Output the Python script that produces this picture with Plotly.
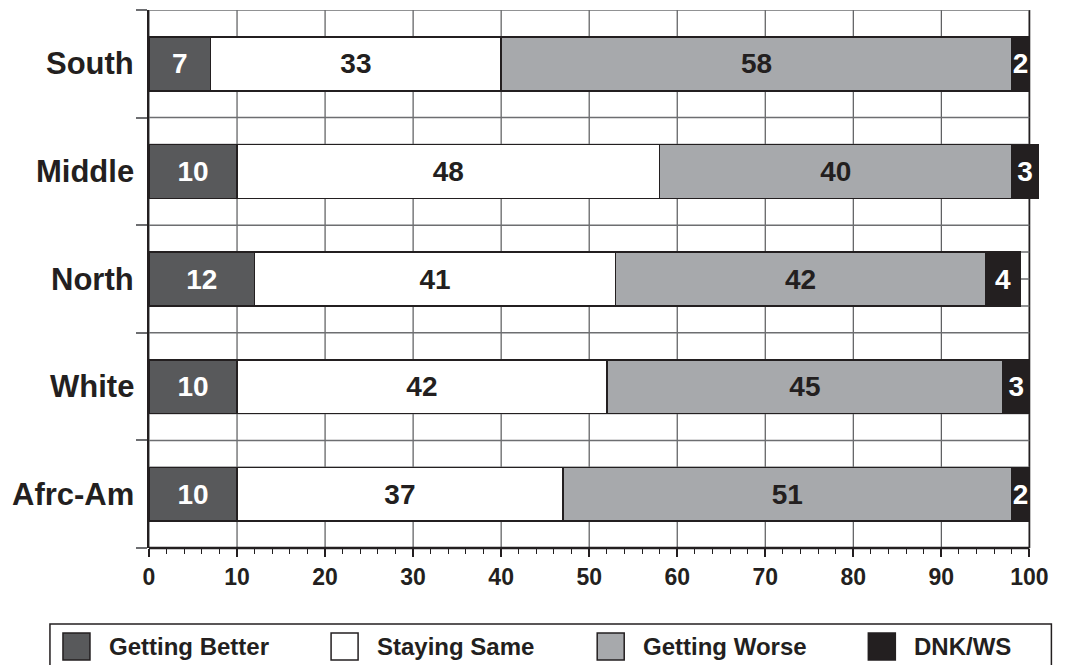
import plotly.graph_objects as go

categories = ["South", "Middle", "North", "White", "Afrc-Am"]
series_names = ["Getting Better", "Staying Same", "Getting Worse", "DNK/WS"]
getting_better = [7, 10, 12, 10, 10]
staying_same = [33, 48, 41, 42, 37]
getting_worse = [58, 40, 42, 45, 51]
dnk_ws = [2, 3, 4, 3, 2]
x_ticks = [0, 10, 20, 30, 40, 50, 60, 70, 80, 90, 100]

series_values = [getting_better, staying_same, getting_worse, dnk_ws]
fill_colors = ["#58595b", "#ffffff", "#a7a9ac", "#231f20"]
text_colors = ["#ffffff", "#231f20", "#231f20", "#ffffff"]
INK = "#231f20"
GRID = "#6d6e71"
FONT = "Liberation Sans, Arial, sans-serif"

n = len(categories)
ypos = [n - 1 - i for i in range(n)]
x_max = x_ticks[-1]
x_over = x_max + 2  # room for totals that exceed 100

fig = go.Figure()
for name, vals, fc, tc in zip(series_names, series_values, fill_colors, text_colors):
    fig.add_trace(go.Bar(
        y=ypos, x=vals, name=name, orientation="h", width=0.5,
        marker=dict(color=fc, line=dict(color=INK, width=1.6)),
        texttemplate="%{x}", textposition="inside", insidetextanchor="middle",
        textfont=dict(family=FONT, size=28, color=tc, weight="bold"),
        constraintext="none", cliponaxis=False, showlegend=False,
        hoverinfo="skip",
    ))

boundaries = [b - 0.5 for b in range(n + 1)]
grid_rows = [q / 4 - 0.5 for q in range(4 * n + 1)]
minor_x = list(range(0, x_max + 1, 2))

L_PX, R_PX, T_PX, B_PX = 149, 1029, 10, 548
plot_right = L_PX + (R_PX - L_PX) * x_over / x_max

fig.update_layout(
    barmode="stack",
    width=1068, height=665,
    margin=dict(l=L_PX, r=1068 - plot_right, t=T_PX, b=665 - B_PX),
    plot_bgcolor="white", paper_bgcolor="white",
    uniformtext=dict(minsize=28, mode="show"),
    xaxis=dict(
        range=[0, x_over], tickvals=x_ticks, ticks="outside", ticklen=8,
        tickwidth=1.5, tickcolor=INK,
        showgrid=False, showline=False, zeroline=False,
        tickfont=dict(family=FONT, size=23, color=INK, weight="bold"),
        minor=dict(tickvals=minor_x, ticks="outside", ticklen=5,
                   tickcolor=INK, tickwidth=1.2, showgrid=False),
    ),
    yaxis=dict(
        range=[-0.5, n - 0.5], tickvals=boundaries, showticklabels=False,
        ticks="outside", ticklen=11, tickcolor=GRID, tickwidth=1.5,
        showgrid=False, showline=True, linecolor=INK, linewidth=2,
        zeroline=False,
    ),
)

# grid limited to the 0-100 scale (bars may overrun it)
for yv in grid_rows:
    fig.add_shape(type="line", xref="x", yref="y", x0=0, x1=x_max, y0=yv, y1=yv,
                  line=dict(color=GRID, width=1.5), layer="below")
for xv in x_ticks:
    fig.add_shape(type="line", xref="x", yref="paper", x0=xv, x1=xv, y0=0, y1=1,
                  line=dict(color=INK if xv == x_max else "#58595b",
                            width=1.8 if xv == x_max else 1.2),
                  layer="below")
fig.add_shape(type="line", xref="x", yref="paper", x0=0, x1=x_max, y0=0, y1=0,
              line=dict(color=INK, width=2.5), layer="above")

# category labels
for cat, yp in zip(categories, ypos):
    fig.add_annotation(xref="paper", yref="y", x=-13 / (plot_right - L_PX), y=yp,
                       xanchor="right", yanchor="middle", showarrow=False, text=cat,
                       font=dict(family=FONT, size=31, color=INK, weight="bold"))

# legend drawn as layout decorations (large square swatches)
def px_x(p):
    return (p - L_PX) / (plot_right - L_PX)

def px_y(p):
    return (B_PX - p) / (B_PX - T_PX)

fig.add_shape(type="rect", xref="paper", yref="paper",
              x0=px_x(50), x1=px_x(1051), y0=px_y(624), y1=px_y(720),
              line=dict(color=INK, width=1.5), fillcolor="rgba(0,0,0,0)")
box_lefts = [63, 331, 597, 868]
for name, fc, bl in zip(series_names, fill_colors, box_lefts):
    fig.add_shape(type="rect", xref="paper", yref="paper",
                  x0=px_x(bl), x1=px_x(bl + 27), y0=px_y(660), y1=px_y(633),
                  line=dict(color=INK, width=1.5), fillcolor=fc)
    fig.add_annotation(xref="paper", yref="paper", x=px_x(bl + 44), y=px_y(646),
                       xanchor="left", yanchor="middle", showarrow=False,
                       text=name,
                       font=dict(family=FONT, size=24, color=INK, weight="bold"))

fig.write_html("out.html", config={"displayModeBar": False},
               post_script="document.body.style.margin='0px';")
